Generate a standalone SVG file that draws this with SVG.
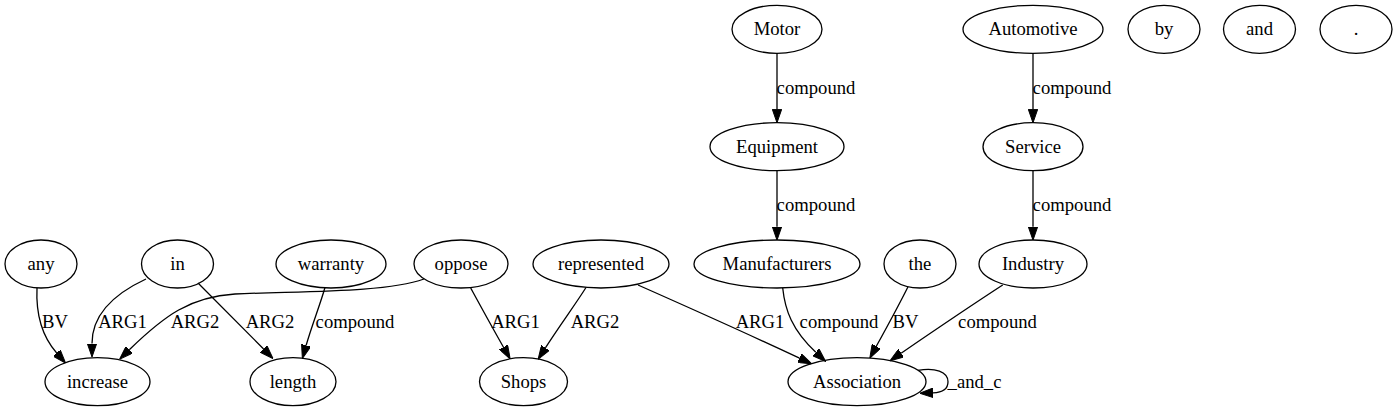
<svg xmlns="http://www.w3.org/2000/svg" width="1397" height="411" viewBox="0 0 1397 411">
<style>
.n ellipse{fill:none;stroke:#000;stroke-width:1.3}
.n text{font-family:"Liberation Serif","Times New Roman",serif;font-size:18.67px;text-anchor:middle;fill:#000}
.e path{fill:none;stroke:#000;stroke-width:1.3;marker-end:url(#ah)}
.e text{font-family:"Liberation Serif","Times New Roman",serif;font-size:18.67px;text-anchor:middle;fill:#000}
</style>
<defs>
<marker id="ah" markerUnits="userSpaceOnUse" viewBox="0 0 13.5 9.4" refX="0" refY="4.7" markerWidth="13.5" markerHeight="9.4" orient="auto">
<path d="M0,0 L13.5,4.7 L0,9.4 z" fill="#000" stroke="#000" stroke-width="1"/>
</marker>
</defs>
<rect width="1397" height="411" fill="#fff"/>
<g id="connectors" class="e">
<path d="M777,53.3 L777,109.3"/>
<text x="816" y="93.6">compound</text>
<path d="M777,170.7 L777,226.7"/>
<text x="816" y="211">compound</text>
<path d="M1033,53.3 L1033,109.3"/>
<text x="1072" y="93.6">compound</text>
<path d="M1033,170.7 L1033,226.7"/>
<text x="1072" y="211">compound</text>
<path d="M37,288 C36,310 40,334 56.7,353"/>
<text x="55" y="328.4">BV</text>
<path d="M146,279 C118,292 92,312 92,343.5"/>
<text x="122.5" y="328.4">ARG1</text>
<path d="M424,279 C385,293 300,291 235,294 C190,297 165,315 129.3,349.7"/>
<text x="195" y="328.4">ARG2</text>
<path d="M198,283 C215,300 240,325 263.6,349"/>
<text x="270" y="328.4">ARG2</text>
<path d="M325,287.5 C320,305 312,325 306.1,345.5"/>
<text x="355" y="328.4">compound</text>
<path d="M470.7,288 C480,305 492,327 503.5,347.2"/>
<text x="515.5" y="328.4">ARG1</text>
<path d="M586,287.5 C575,305 560,325 545.4,347.9"/>
<text x="595" y="328.4">ARG2</text>
<path d="M638,285 C690,308 750,335 799.5,358.1"/>
<text x="760" y="328.4">ARG1</text>
<path d="M782.7,288 C785,310 792,330 815.8,352.3"/>
<text x="839" y="328.4">compound</text>
<path d="M908,286.7 C900,303 888,325 876.3,346.3"/>
<text x="905.5" y="328.4">BV</text>
<path d="M1002.7,285 C975,303 935,330 901.1,353.2"/>
<text x="997.5" y="328.4">compound</text>
<path d="M918,370.4 C935,367 948,372 948,381.7 C948,389 942,392.5 933,392.8"/>
<text x="974.5" y="387.7">_and_c</text>
</g>
<g id="node-Motor" class="n"><ellipse cx="777" cy="29.3" rx="45" ry="24"/><text x="777" y="35.3">Motor</text></g>
<g id="node-Automotive" class="n"><ellipse cx="1033" cy="29.3" rx="70" ry="24"/><text x="1033" y="35.3">Automotive</text></g>
<g id="node-by" class="n"><ellipse cx="1164" cy="29.3" rx="36" ry="24"/><text x="1164" y="35.3">by</text></g>
<g id="node-and" class="n"><ellipse cx="1259.5" cy="29.3" rx="36" ry="24"/><text x="1259.5" y="35.3">and</text></g>
<g id="node-period" class="n"><ellipse cx="1356" cy="29.3" rx="36" ry="24"/><text x="1356" y="35.3">.</text></g>
<g id="node-Equipment" class="n"><ellipse cx="777" cy="146.7" rx="67" ry="24"/><text x="777" y="152.7">Equipment</text></g>
<g id="node-Service" class="n"><ellipse cx="1033" cy="146.7" rx="50" ry="24"/><text x="1033" y="152.7">Service</text></g>
<g id="node-any" class="n"><ellipse cx="41" cy="264" rx="36" ry="24"/><text x="41" y="270">any</text></g>
<g id="node-in" class="n"><ellipse cx="177.5" cy="264" rx="36" ry="24"/><text x="177.5" y="270">in</text></g>
<g id="node-warranty" class="n"><ellipse cx="331" cy="264" rx="55" ry="24"/><text x="331" y="270">warranty</text></g>
<g id="node-oppose" class="n"><ellipse cx="461" cy="264" rx="47" ry="24"/><text x="461" y="270">oppose</text></g>
<g id="node-represented" class="n"><ellipse cx="601" cy="264" rx="68" ry="24"/><text x="601" y="270">represented</text></g>
<g id="node-Manufacturers" class="n"><ellipse cx="777" cy="264" rx="83" ry="24"/><text x="777" y="270">Manufacturers</text></g>
<g id="node-the" class="n"><ellipse cx="920" cy="264" rx="36" ry="24"/><text x="920" y="270">the</text></g>
<g id="node-Industry" class="n"><ellipse cx="1033" cy="264" rx="54" ry="24"/><text x="1033" y="270">Industry</text></g>
<g id="node-increase" class="n"><ellipse cx="97.5" cy="381.7" rx="52.5" ry="24"/><text x="97.5" y="387.7">increase</text></g>
<g id="node-length" class="n"><ellipse cx="293" cy="381.7" rx="43" ry="24"/><text x="293" y="387.7">length</text></g>
<g id="node-Shops" class="n"><ellipse cx="523.5" cy="381.7" rx="44" ry="24"/><text x="523.5" y="387.7">Shops</text></g>
<g id="node-Association" class="n"><ellipse cx="857" cy="381.7" rx="69" ry="24"/><text x="857" y="387.7">Association</text></g>
</svg>
